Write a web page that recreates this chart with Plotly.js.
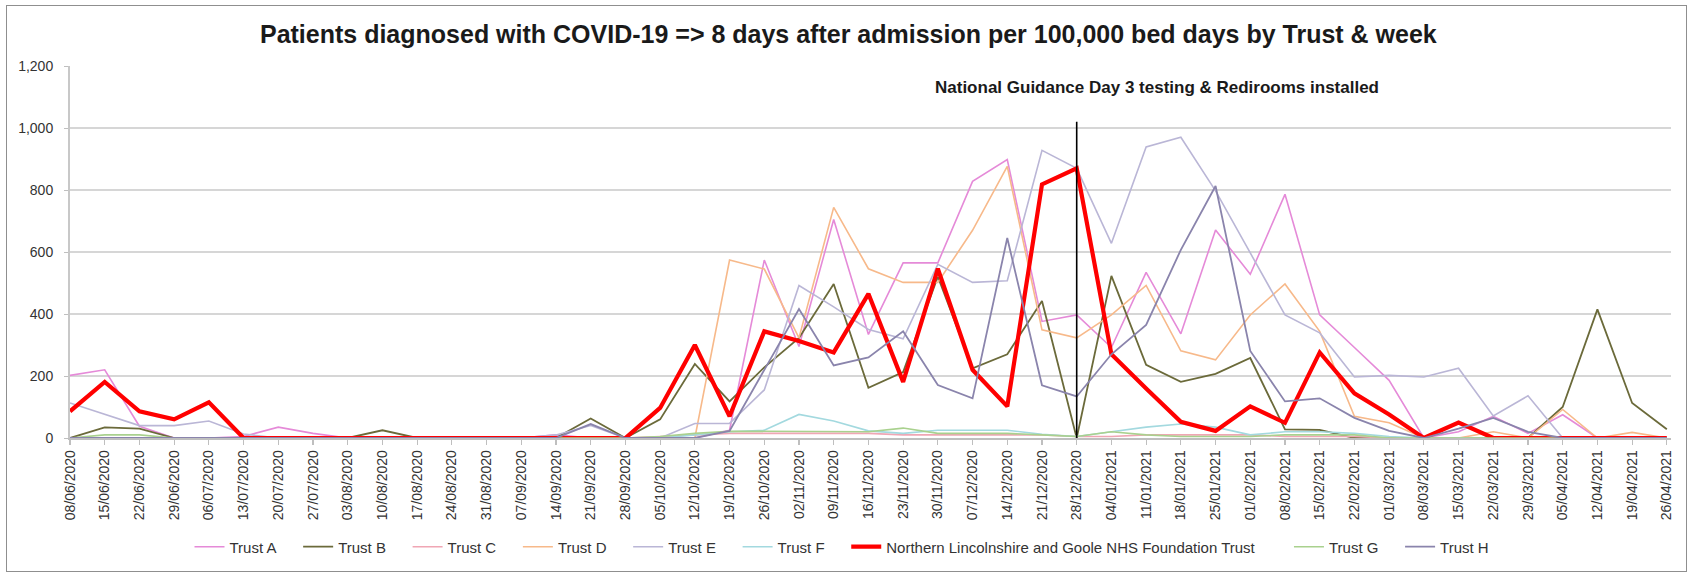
<!DOCTYPE html>
<html>
<head>
<meta charset="utf-8">
<script src="https://cdn.plot.ly/plotly-3.0.1.min.js"></script>
<style>
  html, body { margin: 0; padding: 0; background: #fff; }
  #wrap { position: relative; width: 1690px; height: 575px; }
  #chart { position: absolute; left: 0; top: 0; width: 1690px; height: 575px; }
  #frame { position: absolute; left: 6px; top: 5px; width: 1679px; height: 565px; border: 1.5px solid #8f8f8f; pointer-events: none; }
</style>
</head>
<body>
<div id="wrap">
  <div id="chart"></div>
  <div id="frame"></div>
</div>
<script>
// Week commencing dates
const weeks = ['08/06/2020','15/06/2020','22/06/2020','29/06/2020','06/07/2020','13/07/2020','20/07/2020','27/07/2020','03/08/2020','10/08/2020','17/08/2020','24/08/2020','31/08/2020','07/09/2020','14/09/2020','21/09/2020','28/09/2020','05/10/2020','12/10/2020','19/10/2020','26/10/2020','02/11/2020','09/11/2020','16/11/2020','23/11/2020','30/11/2020','07/12/2020','14/12/2020','21/12/2020','28/12/2020','04/01/2021','11/01/2021','18/01/2021','25/01/2021','01/02/2021','08/02/2021','15/02/2021','22/02/2021','01/03/2021','08/03/2021','15/03/2021','22/03/2021','29/03/2021','05/04/2021','12/04/2021','19/04/2021','26/04/2021'];

// Patients diagnosed >= 8 days after admission per 100,000 bed days
const trustA = [202,220,38,0,0,5,35,15,0,0,0,0,0,0,10,0,0,0,0,25,574,295,705,334,565,565,828,898,376,397,292,534,336,671,528,786,397,292,186,0,20,70,15,75,0,0,0];
const trustB = [0,34,30,0,0,0,0,0,0,25,0,0,0,0,0,63,0,60,239,118,228,323,497,162,213,520,225,270,442,0,523,236,181,207,258,28,26,0,0,0,0,0,0,100,415,113,28];
const trustC = [0,0,0,0,0,0,0,0,0,0,0,0,0,0,0,0,0,5,10,15,15,15,15,15,10,10,10,10,10,5,5,10,10,10,10,5,5,5,0,0,0,0,0,0,0,0,0];
const trustD = [0,0,0,0,0,0,0,0,0,0,0,0,0,0,0,0,0,0,0,574,545,323,744,546,502,502,670,876,349,323,397,492,281,252,397,497,344,70,49,0,0,20,0,92,0,18,0];
const trustE = [113,76,40,40,55,13,0,0,0,0,0,0,0,0,10,40,0,0,47,47,155,492,423,350,320,560,502,507,928,870,628,939,970,797,597,397,339,197,202,197,225,71,136,0,0,0,0];
const trustF = [0,0,0,0,0,0,0,0,0,0,0,0,0,0,0,0,0,0,10,20,25,76,55,23,15,25,25,25,12,5,20,35,45,35,10,20,20,15,5,0,0,0,0,0,0,0,0];
const nlag   = [86,181,86,60,115,0,0,0,0,0,0,0,0,0,0,0,0,97,300,70,344,313,276,465,181,546,220,102,818,870,270,160,52,23,102,49,276,144,76,0,50,0,0,0,0,0,0];
const trustG = [0,10,10,0,0,0,0,0,0,0,0,0,0,0,0,0,0,5,15,22,22,22,20,20,32,15,15,15,10,5,20,10,5,5,5,10,10,10,0,0,0,0,0,0,0,0,0];
const trustH = [0,0,0,0,0,0,0,0,0,0,0,0,0,0,0,45,0,0,0,23,220,416,234,260,344,171,128,645,170,134,270,365,607,813,281,118,128,65,23,0,30,65,20,0,0,0,0];

const guidanceWeek = '28/12/2020';
const guidanceTop = 1020;
const yTicks = [0,200,400,600,800,1000,1200];

const pad4 = '\u00a0\u00a0\u00a0\u00a0';
const pad7 = '\u00a0\u00a0\u00a0\u00a0\u00a0\u00a0\u00a0';

const series = [
  {name: 'Trust A', y: trustA, color: '#e58ad8', width: 1.6},
  {name: 'Trust B', y: trustB, color: '#6b6a3a', width: 1.8},
  {name: 'Trust C', y: trustC, color: '#f0a6b4', width: 1.6},
  {name: 'Trust D', y: trustD, color: '#f7b98a', width: 1.6},
  {name: 'Trust E', y: trustE, color: '#bab6d6', width: 1.6},
  {name: 'Trust F', y: trustF, color: '#a3d9df', width: 1.6},
  {name: 'Northern Lincolnshire and Goole NHS Foundation Trust', y: nlag, color: '#ff0000', width: 4.2, pad: pad7},
  {name: 'Trust G', y: trustG, color: '#a9d18e', width: 1.6},
  {name: 'Trust H', y: trustH, color: '#8a84ac', width: 1.8}
];

const traces = series.map(s => ({
  type: 'scatter',
  mode: 'lines',
  x: weeks,
  y: s.y,
  name: s.name + (s.pad || pad4),
  line: {color: s.color, width: s.width},
  hoverinfo: 'x+y+name'
}));

const font = '"Liberation Sans", Arial, sans-serif';

const layout = {
  width: 1690,
  height: 575,
  margin: {l: 70, r: 19, t: 66, b: 129, pad: 0},
  paper_bgcolor: '#ffffff',
  plot_bgcolor: '#ffffff',
  font: {family: font, color: '#333333', size: 14},
  title: {
    text: 'Patients diagnosed with COVID-19 => 8 days after admission per 100,000 bed days by Trust & week',
    font: {family: font, size: 25, color: '#1a1a1a', weight: 'bold'},
    x: 0.502, xanchor: 'center',
    y: 1 - 34 / 575, yanchor: 'middle', yref: 'container'
  },
  xaxis: {
    type: 'category',
    range: [0, 46.12],
    tickangle: -90,
    ticks: 'outside',
    ticklen: 5,
    tickwidth: 1.2,
    tickcolor: '#bfbfbf',
    showline: true,
    linecolor: '#bfbfbf',
    linewidth: 1.5,
    showgrid: false,
    zeroline: false,
    tickfont: {family: font, size: 14, color: '#333333'},
    fixedrange: true
  },
  yaxis: {
    range: [0, 1200],
    tickvals: yTicks,
    tickformat: ',',
    ticks: 'outside',
    ticklen: 4,
    tickcolor: '#bfbfbf',
    showline: true,
    linecolor: '#c8c8c8',
    linewidth: 2,
    showgrid: true,
    gridcolor: '#d6d6d6',
    gridwidth: 1.5,
    zeroline: false,
    ticklabelstandoff: 8,
    tickfont: {family: font, size: 14, color: '#333333'},
    fixedrange: true
  },
  showlegend: true,
  legend: {
    orientation: 'h',
    x: (850 - 70) / 1601,
    xanchor: 'center',
    y: (445.7 - 557) / 380,
    yanchor: 'middle',
    font: {family: font, size: 15, color: '#333333'},
    itemwidth: 30,
    bgcolor: 'rgba(0,0,0,0)'
  },
  shapes: [{
    type: 'line',
    xref: 'x', yref: 'y',
    x0: guidanceWeek, x1: guidanceWeek,
    y0: 0, y1: guidanceTop,
    line: {color: '#000000', width: 1.6}
  }],
  annotations: [{
    text: 'National Guidance Day 3 testing & Redirooms installed',
    xref: 'paper', yref: 'paper',
    x: (1157 - 70) / 1601, y: (445.7 - 88) / 380,
    xanchor: 'center', yanchor: 'middle',
    showarrow: false,
    font: {family: font, size: 17, color: '#1a1a1a', weight: 'bold'}
  }]
};

Plotly.newPlot('chart', traces, layout, {displayModeBar: false, staticPlot: true});
</script>
</body>
</html>
